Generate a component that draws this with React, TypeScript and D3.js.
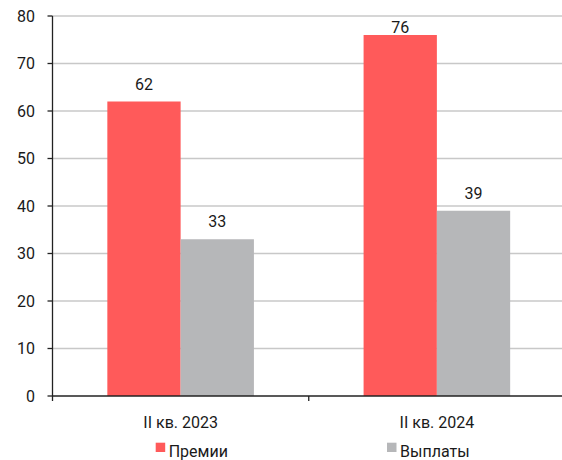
import React from "react";
import * as d3 from "d3";

const categories = ["II кв. 2023", "II кв. 2024"];
const seriesNames = ["Премии", "Выплаты"];
const premiums = [62, 76];
const payouts = [33, 39];
const yTicks = [0, 10, 20, 30, 40, 50, 60, 70, 80];

const colors = ["#FF5A5A", "#B6B7B9"];
const W = 562, H = 460;
const left = 52.5, right = 565, top = 16, bottom = 396;
const font = "Roboto, 'Open Sans', sans-serif";

export default function App() {
  const x0 = d3.scaleBand<string>().domain(categories).range([left, right]).paddingInner(0).paddingOuter(0);
  const bw = x0.bandwidth();
  const inner = 0.214;
  const x1 = d3.scaleBand<string>().domain(seriesNames).range([bw * inner, bw * (1 - inner)]).padding(0);
  const y = d3.scaleLinear().domain([0, 80]).range([bottom, top]);
  const series = [premiums, payouts];

  return (
    <svg width={W} height={H} style={{ position: "absolute", left: 0, top: 0, fontFamily: font }}>
      <rect width={W} height={H} fill="#fff" />
      {yTicks.filter((t) => t > 0).map((t) => (
        <line key={t} x1={left} x2={W} y1={y(t)} y2={y(t)} stroke="#C8C8C8" strokeWidth={1.3} />
      ))}
      {categories.map((c, ci) =>
        seriesNames.map((s, si) => {
          const v = series[si][ci];
          const bx = (x0(c) as number) + (x1(s) as number);
          const by = y(v);
          const ly = Math.max(by - 12, 33);
          return (
            <g key={c + s}>
              <rect x={bx} y={by} width={x1.bandwidth()} height={bottom - by} fill={colors[si]} />
              <text x={bx + x1.bandwidth() / 2} y={ly} textAnchor="middle" fontSize={16} fill="#1a1a1a">{v}</text>
            </g>
          );
        })
      )}
      <line x1={left} x2={left} y1={top} y2={bottom} stroke="#222" strokeWidth={1.3} />
      <line x1={left} x2={W} y1={bottom} y2={bottom} stroke="#222" strokeWidth={1.3} />
      {yTicks.map((t) => (
        <g key={t}>
          <line x1={left - 5} x2={left} y1={y(t)} y2={y(t)} stroke="#222" strokeWidth={1.3} />
          <text x={35} y={y(t) + 5.5} textAnchor="end" fontSize={16} fill="#1a1a1a">{t}</text>
        </g>
      ))}
      {[left, ...categories.slice(1).map((c) => x0(c) as number)].map((xx, i) => (
        <line key={i} x1={xx} x2={xx} y1={bottom} y2={bottom + 5} stroke="#222" strokeWidth={1.3} />
      ))}
      {categories.map((c) => (
        <text key={c} x={(x0(c) as number) + bw / 2} y={428} textAnchor="middle" fontSize={16} fill="#1a1a1a">{c}</text>
      ))}
      {seriesNames.map((s, i) => {
        const lx = [155.7, 387][i];
        return (
          <g key={s}>
            <rect x={lx} y={442.7} width={9.5} height={9.3} fill={colors[i]} />
            <text x={lx + 13} y={457} fontSize={16} fill="#1a1a1a">{s}</text>
          </g>
        );
      })}
    </svg>
  );
}
